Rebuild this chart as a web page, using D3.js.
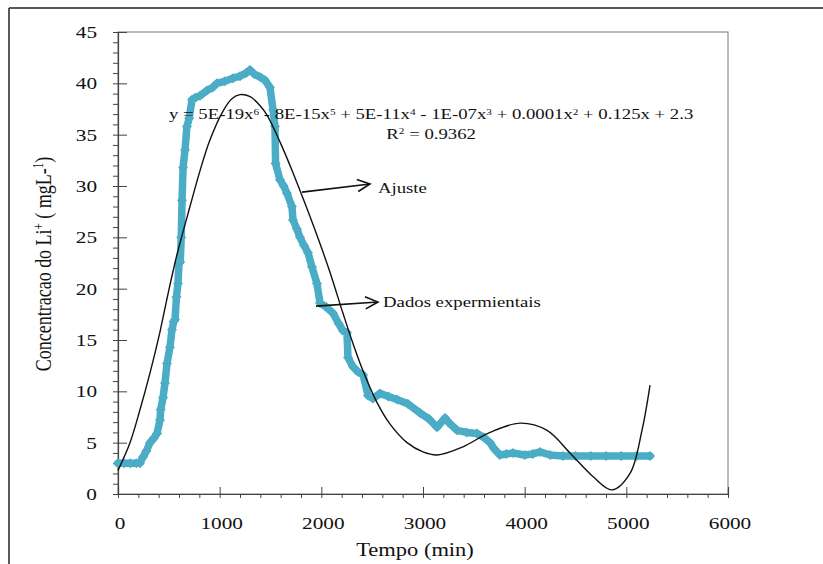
<!DOCTYPE html>
<html>
<head>
<meta charset="utf-8">
<script src="https://cdn.jsdelivr.net/npm/d3@7"></script>
<style>
  body { margin: 0; background: #fff; }
  svg { display: block; }
  text { font-family: "Liberation Serif", "Times New Roman", serif; fill: #111; }
</style>
</head>
<body>
<div id="chart"></div>
<script>
// dados experimentais: tempo (min) e concentracao de Li+ (mg/L)
const tempoDados = [0, 60, 120, 180, 216, 246, 280, 315, 350, 384, 413, 420, 443, 462, 482, 511, 531, 548, 561, 575,
  590, 600, 612, 622, 630, 640, 659, 678, 700, 728, 760, 807, 875, 930, 974, 1050, 1131, 1200, 1260, 1298,
  1340, 1400, 1446, 1495, 1525, 1544, 1550, 1593, 1630, 1662, 1711, 1721, 1760, 1790, 1830, 1869, 1908, 1957, 1987, 2050,
  2115, 2170, 2213, 2252, 2262, 2311, 2360, 2410, 2459, 2508, 2577, 2660, 2744, 2850, 2971, 3060, 3138, 3217, 3260, 3335,
  3430, 3531, 3600, 3659, 3700, 3757, 3820, 3885, 4000, 4080, 4151, 4250, 4377, 4500, 4650, 4800, 4950, 5100, 5233];
const liDados = [3.0, 3.0, 3.0, 3.0, 3.0, 3.6, 4.2, 5.0, 5.4, 5.9, 7.2, 8.2, 9.4, 10.8, 12.7, 14.3, 16.0, 16.8, 17.0, 19.2,
  20.5, 22.5, 22.6, 25.0, 28.6, 31.8, 33.5, 35.8, 36.6, 38.4, 38.6, 38.8, 39.3, 39.6, 40.0, 40.2, 40.5, 40.7, 41.0, 41.3,
  40.9, 40.6, 40.3, 39.6, 37.4, 35.8, 32.2, 30.6, 30.0, 29.3, 28.0, 26.7, 25.8, 25.0, 24.2, 23.5, 22.1, 20.5, 18.6, 18.2,
  17.6, 16.6, 15.9, 15.7, 13.3, 12.4, 11.9, 11.6, 9.6, 9.3, 9.8, 9.5, 9.2, 8.8, 7.9, 7.3, 6.5, 7.4, 6.9, 6.2,
  6.0, 5.9, 5.5, 5.0, 4.4, 3.8, 3.9, 4.0, 3.8, 3.9, 4.1, 3.8, 3.7, 3.7, 3.7, 3.7, 3.7, 3.7, 3.7];

// curva de ajuste
const tempoAjuste = [0, 118, 216, 315, 413, 492, 580, 708, 807, 905, 1033, 1120, 1200, 1300, 1400, 1466, 1593, 1721, 1820, 1957,
  2085, 2213, 2310, 2410, 2548, 2676, 2843, 3000, 3138, 3393, 3659, 3954, 4220, 4446, 4672, 4859, 5036, 5154, 5233];
const liAjuste = [2.3, 5.0, 8.2, 11.8, 15.8, 19.5, 23.3, 28.0, 31.5, 34.5, 37.3, 38.5, 38.9, 38.7, 37.8, 36.9, 34.3, 31.3, 28.8, 25.2,
  21.6, 17.6, 14.7, 12.0, 8.9, 6.8, 5.0, 4.1, 3.8, 4.6, 6.0, 6.9, 6.2, 4.0, 1.7, 0.4, 2.0, 6.2, 10.6];

const xTicks = [0, 1000, 2000, 3000, 4000, 5000, 6000];
const yTicks = [0, 5, 10, 15, 20, 25, 30, 35, 40, 45];

const equacao = ["y = 5E-19x", "6", " - 8E-15x", "5", " + 5E-11x", "4", " - 1E-07x", "3", " + 0.0001x", "2", " + 0.125x + 2.3"];
const r2 = "0.9362";

// tamanho e margens
const margin = {top: 32, right: 95, bottom: 70, left: 118};
const W = 823, H = 564;
const w = W - margin.left - margin.right;
const h = H - margin.top - margin.bottom;
const sx = 1.25; // texto um pouco esticado na horizontal como no original

const svg = d3.select("#chart").append("svg")
  .attr("width", W)
  .attr("height", H);

// moldura externa
svg.append("line").attr("x1", 9).attr("y1", 8).attr("x2", W).attr("y2", 8)
  .attr("stroke", "#222").attr("stroke-width", 1.5);
svg.append("line").attr("x1", 9).attr("y1", 8).attr("x2", 9).attr("y2", H)
  .attr("stroke", "#222").attr("stroke-width", 1.5);

const g = svg.append("g")
  .attr("transform", "translate(" + margin.left + "," + margin.top + ")");

const x = d3.scaleLinear().domain([0, 6000]).range([0, w]);
const y = d3.scaleLinear().domain([0, 45]).range([h, 0]);

// caixa da area do grafico
g.append("rect")
  .attr("width", w).attr("height", h)
  .attr("fill", "none").attr("stroke", "#777").attr("stroke-width", 1);

// eixo y: menores para fora, maiores cruzando
g.append("g")
  .call(d3.axisLeft(y).ticks(45).tickSize(5).tickFormat(""))
  .call(s => s.select(".domain").remove())
  .selectAll("line").attr("stroke", "#444");
g.append("g")
  .call(d3.axisRight(y).tickValues(yTicks).tickSize(9).tickFormat(""))
  .call(s => s.select(".domain").attr("stroke", "#444").attr("stroke-width", 1.2))
  .selectAll("line").attr("stroke", "#444");

// eixo x
g.append("g")
  .attr("transform", "translate(0," + h + ")")
  .call(d3.axisBottom(x).ticks(30).tickSize(4).tickFormat(""))
  .call(s => s.select(".domain").remove())
  .selectAll("line").attr("stroke", "#444");
g.append("g")
  .attr("transform", "translate(0," + h + ")")
  .call(d3.axisTop(x).tickValues(xTicks).tickSize(7).tickFormat(""))
  .call(s => s.select(".domain").attr("stroke", "#444").attr("stroke-width", 1.2))
  .selectAll("line").attr("stroke", "#444");

// rotulos dos ticks
g.selectAll("text.ylab")
  .data(yTicks)
  .join("text")
  .attr("class", "ylab")
  .attr("transform", d => "translate(-21," + (y(d) + 6) + ") scale(" + sx + ",1)")
  .attr("text-anchor", "end")
  .attr("font-size", "17px")
  .text(d => d);

g.selectAll("text.xlab")
  .data(xTicks)
  .join("text")
  .attr("class", "xlab")
  .attr("transform", d => "translate(" + (x(d) + 2) + "," + (h + 35) + ") scale(" + sx + ",1)")
  .attr("text-anchor", "middle")
  .attr("font-size", "17px")
  .text(d => d);

// titulos dos eixos
g.append("text")
  .attr("transform", "translate(" + (w / 2 - 8) + "," + (h + 62) + ") scale(" + sx + ",1)")
  .attr("text-anchor", "middle")
  .attr("font-size", "18px")
  .text("Tempo (min)");

const yt = svg.append("text")
  .attr("transform", "translate(51,264) rotate(-90) scale(1," + sx + ")")
  .attr("text-anchor", "middle")
  .attr("font-size", "18px");
yt.append("tspan").text("Concentracao do Li");
yt.append("tspan").attr("baseline-shift", "super").attr("font-size", "11px").text("+");
yt.append("tspan").text(" ( mgL-");
yt.append("tspan").attr("baseline-shift", "super").attr("font-size", "11px").text("1");
yt.append("tspan").text(")");

// serie experimental (linha grossa com losangos)
const pontos = tempoDados.map((t, i) => ({t: t, v: liDados[i]}));
const cor = "#4bacc6";

g.append("path")
  .datum(pontos)
  .attr("fill", "none")
  .attr("stroke", cor)
  .attr("stroke-width", 7.5)
  .attr("stroke-linejoin", "round")
  .attr("stroke-linecap", "round")
  .attr("d", d3.line().x(d => x(d.t)).y(d => y(d.v)));

g.selectAll("path.marker")
  .data(pontos)
  .join("path")
  .attr("class", "marker")
  .attr("d", d3.symbol(d3.symbolSquare, 50))
  .attr("transform", d => "translate(" + x(d.t) + "," + y(d.v) + ") rotate(45)")
  .attr("fill", cor);

// curva de ajuste
const ajuste = tempoAjuste.map((t, i) => ({t: t, v: liAjuste[i]}));
g.append("path")
  .datum(ajuste)
  .attr("fill", "none")
  .attr("stroke", "#111")
  .attr("stroke-width", 1.4)
  .attr("d", d3.line().curve(d3.curveCatmullRom).x(d => x(d.t)).y(d => y(d.v)));

// equacao e R2
const eq = g.append("text")
  .attr("transform", "translate(" + x(3080) + "," + y(36.5) + ") scale(" + sx + ",1)")
  .attr("text-anchor", "middle")
  .attr("font-size", "15px");
equacao.forEach((s, i) => {
  const ts = eq.append("tspan").text(s);
  if (i % 2 == 1) ts.attr("baseline-shift", "super").attr("font-size", "9px");
});

const rt = g.append("text")
  .attr("transform", "translate(" + x(3080) + "," + y(34.6) + ") scale(" + sx + ",1)")
  .attr("text-anchor", "middle")
  .attr("font-size", "15px");
rt.append("tspan").text("R");
rt.append("tspan").attr("baseline-shift", "super").attr("font-size", "9px").text("2");
rt.append("tspan").text(" = " + r2);

// setas de anotacao
const setas = [
  {x1: 1810, y1: 29.4, x2: 2479, y2: 30.2, label: "Ajuste", lx: 2557, ly: 29.3},
  {x1: 1948, y1: 18.3, x2: 2557, y2: 18.7, label: "Dados expermientais", lx: 2607, ly: 18.2}
];

setas.forEach(a => {
  const X1 = x(a.x1), Y1 = y(a.y1), X2 = x(a.x2), Y2 = y(a.y2);
  const ang = Math.atan2(Y2 - Y1, X2 - X1);
  const L = 14, sp = 0.45;
  g.append("line")
    .attr("x1", X1).attr("y1", Y1).attr("x2", X2).attr("y2", Y2)
    .attr("stroke", "#111").attr("stroke-width", 1.6);
  g.append("path")
    .attr("d", "M" + (X2 - L * Math.cos(ang - sp)) + "," + (Y2 - L * Math.sin(ang - sp)) +
      "L" + X2 + "," + Y2 +
      "L" + (X2 - L * Math.cos(ang + sp)) + "," + (Y2 - L * Math.sin(ang + sp)))
    .attr("fill", "none").attr("stroke", "#111").attr("stroke-width", 1.6);
  g.append("text")
    .attr("transform", "translate(" + x(a.lx) + "," + y(a.ly) + ") scale(" + sx + ",1)")
    .attr("font-size", "15px")
    .text(a.label);
});
</script>
</body>
</html>
